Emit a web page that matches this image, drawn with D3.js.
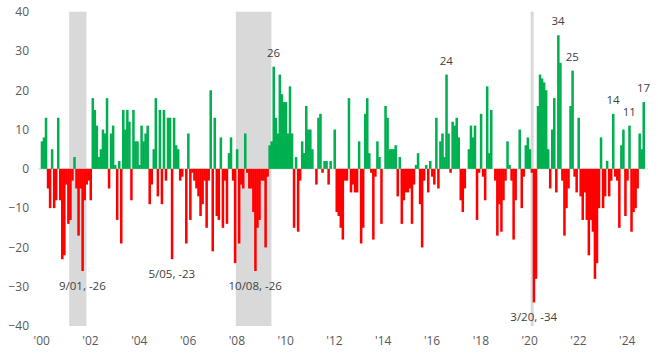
<!DOCTYPE html>
<html><head><meta charset="utf-8">
<script src="https://cdn.jsdelivr.net/npm/d3@7/dist/d3.min.js"></script>
<style>body{margin:0;background:#fff}text{font-family:"Open Sans","Noto Sans",sans-serif}</style>
</head><body><svg id="c" width="658" height="356"></svg>
<script>
// monthly values Jan 2000 .. Sep 2024
const values = [
 7, 8, 13, -5, -10, 5, -10, -8, 13, -8, -23, -22,
 -4, -14, -13, -3, 3, -5, -17, -5, -26, -8, -4, -3,
 -8, 18, 15, 11, 3, 5, 10, 9, 18, -5, 9, 11,
 1, -13, 2, -19, 15, 10, 15, 12, -8, 15, 7, 7,
 1, 11, 7, 9, 11, -9, -4, 5, 18, -7, 15, -9,
 15, -3, 13, 13, -23, 13, 6, 5, -3, -2, 0, -19,
 9, -13, -1, -3, -5, -7, -12, -9, -3, -15, -3, 20,
 -21, 13, -12, -13, 8, -15, -3, -14, 4, 8, -3, -24,
 5, -19, -4, -5, 9, -1, -5, -5, -11, -26, -15, -13,
 -3, -3, -20, -2, 6, 7, 26, 13, 9, 24, 19, 17,
 17, 9, 21, 9, -15, 3, -16, -3, 7, 4, 16, 10,
 10, 5, 0, -4, 13, 14, -1, 2, 2, -4, 2, 0,
 10, -11, -12, -15, -18, -3, -3, 18, -6, -4, -6, -6,
 7, -19, -15, 14, 18, 4, -1, -18, -2, 7, 3, -14,
 0, 16, 13, 5, 5, 5, 6, -7, 3, -14, -8, -6,
 -6, -5, -14, -4, 1, 4, -9, -20, -3, 1, -6, 2,
 -2, -4, 13, -5, 7, 9, 3, 24, 9, -1, 12, 11,
 13, 8, -8, -11, -5, 0, 5, 11, 8, 11, -13, -1,
 14, -2, -8, 21, 4, 15, 0, -3, -17, -9, -16, -8,
 -3, 7, 1, -3, -18, -8, 0, 10, -10, -2, 6, 8,
 5, -1, -34, -28, 16, 24, 23, 22, 20, 5, -5, 10,
 18, -6, 34, 27, -3, -17, -10, -5, 16, 25, -2, -6,
 13, -7, -13, -6, -13, -22, -13, -16, -28, -24, -10, 8,
 -10, -7, 2, -7, -3, 14, -2, -3, -15, 6, 10, -12,
 -3, 11, -16, -11, -10, -5, 9, 5, 17
];
const startYear = 2000;
const yTicks = [-40, -30, -20, -10, 0, 10, 20, 30, 40];
const xTickYears = [2000, 2002, 2004, 2006, 2008, 2010, 2012, 2014, 2016, 2018, 2020, 2022, 2024];
const recessionStart = ["2001-03", "2008-01", "2020-02"];
const recessionEnd = ["2001-11", "2009-06", "2020-03"];
const annMonths = ["2001-09", "2005-05", "2008-10", "2009-07", "2016-08", "2020-03", "2021-03", "2021-10", "2023-06", "2024-02", "2024-09"];
const annTexts = ["9/01, -26", "5/05, -23", "10/08, -26", "26", "24", "3/20, -34", "34", "25", "14", "11", "17"];
const annBelow = [true, true, true, false, false, true, false, false, false, false, false];

const months = values.map((v, i) => {
  const y = startYear + Math.floor(i / 12), m = i % 12 + 1;
  return y + "-" + String(m).padStart(2, "0");
});

const svg = d3.select("#c");
const x = d3.scaleBand().domain(months).range([40.7, 40.7 + months.length * 2.033]).padding(0);
const y = d3.scaleLinear().domain([-40, 40]).range([326, 11.7]);
const bw = x.bandwidth();

// recession shading
svg.append("g").selectAll("rect").data(recessionStart).join("rect")
  .attr("x", (d) => x(d))
  .attr("width", (d, i) => x(recessionEnd[i]) + bw / 2 - x(d))
  .attr("y", y(40)).attr("height", y(-40) - y(40))
  .attr("fill", "#d9d9d9");

// zero line
svg.append("line").attr("x1", 38).attr("x2", 648).attr("y1", y(0)).attr("y2", y(0))
  .attr("stroke", "#d9d9d9").attr("stroke-width", 1);

// bars
svg.append("g").selectAll("rect").data(values).join("rect")
  .attr("x", (d, i) => x(months[i]))
  .attr("width", bw + 0.5)
  .attr("y", d => d >= 0 ? y(d) : y(0))
  .attr("height", d => Math.abs(y(d) - y(0)))
  .attr("fill", d => d >= 0 ? "#00b050" : "#ff0000");

// y axis labels
const yAxis = d3.axisLeft(y).tickValues(yTicks).tickSize(0).tickPadding(0);
const gy = svg.append("g").attr("transform", "translate(29,0)").call(yAxis);
gy.select(".domain").remove();
gy.selectAll("text").attr("fill", "#595959").style("font-size", "12px");

// x axis labels
const xAxis = d3.axisBottom(x).tickValues(xTickYears.map(yr => yr + "-01"))
  .tickFormat(d => "'" + d.slice(2, 4)).tickSize(0).tickPadding(0);
const gx = svg.append("g").attr("transform", "translate(0,336)").call(xAxis);
gx.select(".domain").remove();
gx.selectAll("text").attr("fill", "#595959").style("font-size", "12px");

// annotations
svg.append("g").selectAll("text").data(annTexts).join("text")
  .attr("x", (d, i) => x(annMonths[i]) + bw / 2)
  .attr("y", (d, i) => {
    const v = values[months.indexOf(annMonths[i])];
    return annBelow[i] ? y(v) + 19 : y(v) - 10;
  })
  .attr("text-anchor", "middle")
  .attr("fill", "#404040")
  .style("font-size", "11.5px")
  .text(d => d);
</script></body></html>
